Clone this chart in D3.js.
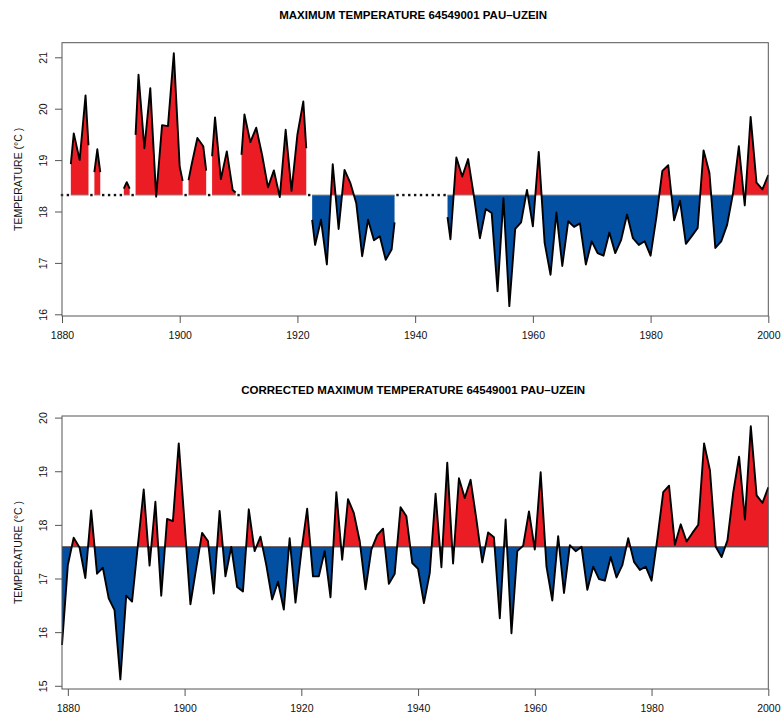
<!doctype html>
<html>
<head>
<meta charset="utf-8">
<script src="https://d3js.org/d3.v7.min.js"></script>
<style>
  body { margin: 0; background: #fff; }
  text { font-family: "Liberation Sans", Arial, Helvetica, sans-serif; }
</style>
</head>
<body>
<svg width="781" height="714"></svg>
<script>
// raw series, 1880-2000 (null = missing year)
var rawYears = d3.range(1880, 2001);
var rawTmax = [
  null, null, 19.52, 19.00, 20.26, null, 19.21, null, null, null,
  null, 18.57, null, 20.66, 19.23, 20.40, 18.29, 19.68, 19.66, 21.08,
  18.87, null, 18.90, 19.43, 19.27, null, 19.83, 18.63, 19.17, 18.42,
  null, 19.89, 19.35, 19.63, 19.10, 18.47, 18.80, 18.28, 19.59, 18.40,
  19.50, 20.14, null, 17.35, 17.84, 16.97, 18.92, 17.66, 18.81, 18.55,
  18.16, 17.13, 17.84, 17.44, 17.52, 17.06, 17.26, null, null, null,
  null, null, null, null, null, null, 17.46, 19.05, 18.68, 19.02,
  18.29, 17.48, 18.05, 17.97, 16.45, 18.26, 16.16, 17.66, 17.79, 18.42,
  17.71, 19.16, 17.39, 16.77, 17.98, 16.94, 17.81, 17.70, 17.77, 16.97,
  17.42, 17.19, 17.14, 17.59, 17.19, 17.45, 17.94, 17.48, 17.35, 17.42,
  17.14, 17.90, 18.79, 18.90, 17.83, 18.21, 17.37, 17.52, 17.68, 19.19,
  18.75, 17.29, 17.42, 17.74, 18.35, 19.27, 18.12, 19.84, 18.56, 18.43,
  18.71
];
var rawRef = 18.32;

// corrected series, 1879-2000
var corrYears = d3.range(1879, 2001);
var corrTmax = [
  15.76,
  17.25, 17.76, 17.58, 17.01, 18.27, 17.09, 17.20, 16.63, 16.41, 15.12,
  16.68, 16.57, 17.62, 18.66, 17.24, 18.43, 16.68, 18.11, 18.07, 19.52,
  18.03, 16.52, 17.20, 17.85, 17.70, 16.72, 18.26, 17.04, 17.59, 16.84,
  16.76, 18.29, 17.51, 17.78, 17.25, 16.61, 16.94, 16.42, 17.75, 16.55,
  17.50, 18.30, 17.04, 17.04, 17.51, 16.65, 18.61, 17.35, 18.48, 18.22,
  17.70, 16.80, 17.54, 17.81, 17.93, 16.90, 17.09, 18.33, 18.16, 17.29,
  17.18, 16.54, 17.10, 18.58, 17.21, 19.16, 17.28, 18.87, 18.50, 18.84,
  18.10, 17.30, 17.86, 17.77, 16.26, 18.10, 15.98, 17.51, 17.61, 18.25,
  17.54, 18.98, 17.22, 16.59, 17.79, 16.73, 17.62, 17.51, 17.59, 16.79,
  17.22, 16.99, 16.96, 17.40, 17.02, 17.25, 17.75, 17.31, 17.16, 17.22,
  16.96, 17.75, 18.61, 18.73, 17.63, 18.01, 17.69, 17.85, 18.00, 19.52,
  19.02, 17.59, 17.40, 17.71, 18.61, 19.27, 18.10, 19.84, 18.55, 18.41,
  18.70
];
var corrRef = 17.59;

var xTicks = [1880, 1900, 1920, 1940, 1960, 1980, 2000];
var rawYTicks = [16, 17, 18, 19, 20, 21];
var corrYTicks = [15, 16, 17, 18, 19, 20];

var red = "#ec1c24", blue = "#0350a3";
var svg = d3.select("svg");
var defs = svg.append("defs");
var left = 62, right = 768.3;

function drawPanel(p) {
    var x = d3.scaleLinear().domain(p.xDomain).range([left, right]),
        y = d3.scaleLinear().domain(p.yDomain).range([p.bottom, p.top]);
    var yRef = y(p.ref);
    var g = svg.append("g");

    defs.append("clipPath").attr("id", p.id + "-up")
        .append("rect").attr("x", left).attr("y", p.top)
        .attr("width", right - left).attr("height", yRef - p.top);
    defs.append("clipPath").attr("id", p.id + "-dn")
        .append("rect").attr("x", left).attr("y", yRef)
        .attr("width", right - left).attr("height", p.bottom - yRef);

    // split into runs of present years; a missing neighbour cuts half a year away
    var runs = [], cur = null;
    p.values.forEach(function(v, i) {
        if (v == null) { cur = null; return; }
        if (!cur) {
            cur = [];
            runs.push(cur);
            if (i > 0) cur.push({ yr: p.years[i] - 0.5, v: (v + p.ref) / 2 });
        }
        cur.push({ yr: p.years[i], v: v });
        if (i < p.values.length - 1 && p.values[i + 1] == null)
            cur.push({ yr: p.years[i] + 0.5, v: (v + p.ref) / 2 });
    });

    var area = d3.area()
        .x(function(d) { return x(d.yr); })
        .y0(yRef)
        .y1(function(d) { return y(d.v); });
    var line = d3.line()
        .x(function(d) { return x(d.yr); })
        .y(function(d) { return y(d.v); });

    runs.forEach(function(r) {
        g.append("path").attr("d", area(r)).attr("fill", red)
            .attr("clip-path", "url(#" + p.id + "-up)");
        g.append("path").attr("d", area(r)).attr("fill", blue)
            .attr("clip-path", "url(#" + p.id + "-dn)");
    });

    // reference level
    if (p.gaps) {
        runs.forEach(function(r) {
            g.append("line")
                .attr("x1", x(r[0].yr)).attr("x2", x(r[r.length - 1].yr))
                .attr("y1", yRef).attr("y2", yRef)
                .attr("stroke", "#8a8a8a").attr("stroke-width", 1);
        });
        g.selectAll(".gap")
            .data(p.years.filter(function(yr, i) { return p.values[i] == null; }))
            .enter().append("rect")
            .attr("x", function(d) { return x(d) - 1.2; })
            .attr("y", yRef - 1.2)
            .attr("width", 2.4).attr("height", 2.4)
            .attr("fill", "#111");
    } else {
        g.append("line")
            .attr("x1", left).attr("x2", right)
            .attr("y1", yRef).attr("y2", yRef)
            .attr("stroke", "#333").attr("stroke-width", 1);
    }

    runs.forEach(function(r) {
        g.append("path").attr("d", line(r))
            .attr("fill", "none").attr("stroke", "#000")
            .attr("stroke-width", 1.9).attr("stroke-linejoin", "round");
    });

    // frame
    g.append("rect")
        .attr("x", left).attr("y", p.top)
        .attr("width", right - left).attr("height", p.bottom - p.top)
        .attr("fill", "none").attr("stroke", "#555").attr("stroke-width", 1);

    // x axis
    var xa = g.append("g")
        .attr("transform", "translate(0," + p.bottom + ")")
        .call(d3.axisBottom(x).tickValues(xTicks).tickSize(7).tickFormat(d3.format("d")));
    xa.select(".domain").remove();
    xa.selectAll("line").attr("stroke", "#555");
    xa.selectAll("text")
        .attr("y", 23).attr("dy", 0)
        .attr("font-size", "10.5px").attr("fill", "#111");

    // y axis, labels turned like R's default
    var ya = g.append("g")
        .attr("transform", "translate(" + left + ",0)")
        .call(d3.axisLeft(y).tickValues(p.yTicks).tickSize(7).tickFormat(d3.format("d")));
    ya.select(".domain").remove();
    ya.selectAll("line").attr("stroke", "#555");
    ya.selectAll("text")
        .attr("x", 0).attr("dy", 0)
        .attr("transform", "translate(-15.5,0) rotate(-90)")
        .attr("text-anchor", "middle")
        .attr("font-size", "10.5px").attr("fill", "#111");

    g.append("text")
        .attr("transform", "translate(22," + ((p.top + p.bottom) / 2) + ") rotate(-90)")
        .attr("text-anchor", "middle")
        .attr("font-size", "10.5px").attr("fill", "#111")
        .text("TEMPERATURE (°C )");

    g.append("text")
        .attr("x", (left + right) / 2 - 2)
        .attr("y", p.titleY)
        .attr("text-anchor", "middle")
        .attr("font-size", "11.5px").attr("font-weight", "bold")
        .text(p.title);
}

drawPanel({
    id: "raw", years: rawYears, values: rawTmax, ref: rawRef, gaps: true,
    xDomain: [1880, 2000], yDomain: [15.967, 21.284], yTicks: rawYTicks,
    top: 42.7, bottom: 316, titleY: 19,
    title: "MAXIMUM TEMPERATURE 64549001 PAU\u2013UZEIN"
});

drawPanel({
    id: "corr", years: corrYears, values: corrTmax, ref: corrRef, gaps: false,
    xDomain: [1879, 2000], yDomain: [14.94, 20.03], yTicks: corrYTicks,
    top: 416, bottom: 689, titleY: 394,
    title: "CORRECTED MAXIMUM TEMPERATURE 64549001 PAU\u2013UZEIN"
});
</script>
</body>
</html>
